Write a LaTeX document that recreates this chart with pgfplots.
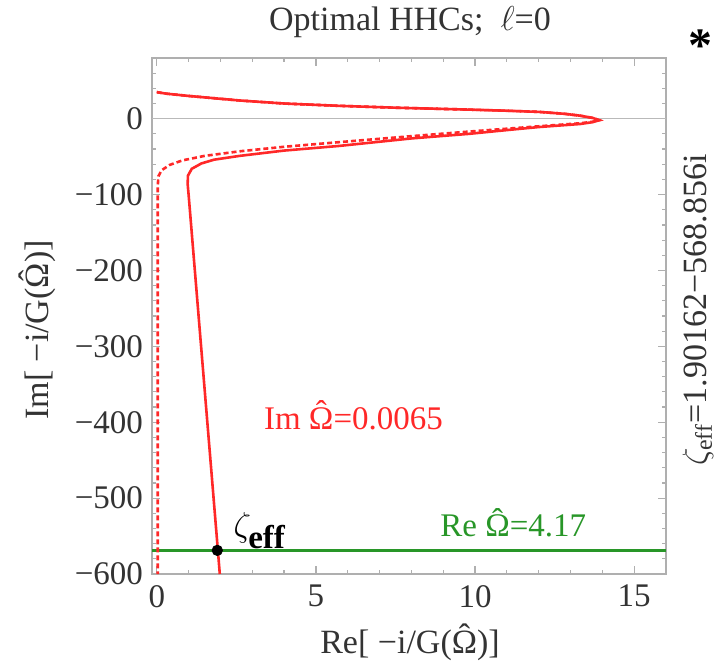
\documentclass[border=0pt]{standalone}
\usepackage{fontspec}
\setmainfont{Liberation Serif}
\usepackage{pgfplots}
\pgfplotsset{compat=1.18}
\definecolor{myred}{RGB}{255,40,40}
\definecolor{mygreen}{RGB}{40,150,40}
\definecolor{framegray}{RGB}{175,175,175}
\newcommand{\Oh}{\ooalign{Ω\cr\hidewidth\raisebox{0.17em}{\char"02C6}\hidewidth\cr}}
\begin{document}
\begin{tikzpicture}
\path[use as bounding box] (-76pt,-47.5pt) rectangle (285pt,287pt);
\begin{axis}[
  at={(0pt,0pt)}, anchor=south west,
  scale only axis, width=257pt, height=258pt,
  xmin=-0.15, xmax=16, ymin=-600, ymax=80,
  xtick={0,5,10,15}, xticklabels={0,5,10,15},
  ytick={-600,-500,-400,-300,-200,-100,0},
  yticklabels={−600,−500,−400,−300,−200,−100,0},
  minor xtick={1,2,3,4,6,7,8,9,11,12,13,14,16},
  minor ytick={-580,-560,...,60},
  tick align=inside, major tick length=4pt, minor tick length=2pt,
  axis line style={framegray, line width=0.8pt},
  every tick/.style={framegray, line width=0.6pt},
  ticklabel style={font=\fontsize{16.5}{18}\selectfont, text=black!80},
  xticklabel style={yshift=-2pt},
  yticklabel style={xshift=-1pt},
]
\addplot[gray!55, line width=0.7pt] coordinates {(-0.15,0) (16,0)};
\addplot[mygreen, line width=1.6pt] coordinates {(-0.15,-568.856) (16,-568.856)};
% dashed curve
\addplot[myred, line width=1.3pt, dash pattern=on 2.5pt off 1.5pt] coordinates {
(0,35) (0.3,33) (1,30) (2.6,24) (4,20) (5.7,17) (7.5,14.5) (9.8,12) (11,10.5) (12,9) (12.8,6.5) (13.3,4) (13.7,1) (13.9,-2)
(13.7,-4) (13.3,-6) (12,-10) (9.8,-17) (8,-23) (5.7,-31) (4,-37) (2.6,-43) (1.5,-49) (0.8,-55) (0.4,-61) (0.15,-68) (0.05,-76) (0.03,-90) (0.03,-600)};
% solid curve
\addplot[myred, line width=1.3pt] coordinates {
(0,35) (0.3,33) (1,30) (2.6,24) (4,20) (5.7,17) (7.5,14.5) (9.8,12) (11,10.5) (12,9) (12.8,6.5) (13.3,4) (13.7,1) (13.9,-2)
(13.7,-4.5) (13.3,-7) (12,-11) (11,-15) (9.8,-20) (8,-26) (5.7,-36) (4,-42) (2.6,-49) (1.8,-54) (1.4,-59) (1.1,-66) (0.98,-75) (0.97,-86) (1.0,-100) (1.92,-568.856) (1.98,-600)};
\addplot[only marks, mark=*, mark size=2.6pt, black] coordinates {(1.90162,-568.856)};
\node[anchor=base west, text=myred, font=\fontsize{16.5}{18}\selectfont, inner sep=0pt] at (axis cs:3.36,-409) {Im \Oh=0.0065};
\node[anchor=base west, text=mygreen, font=\fontsize{16.5}{18}\selectfont, inner sep=0pt] at (axis cs:8.9,-551) {Re \Oh=4.17};
\node[anchor=base west, text=black, font=\fontsize{16.5}{18}\selectfont, inner sep=0pt] at (axis cs:2.4,-551) {$\zeta_{\textbf{eff}}$};
\end{axis}
\node[font=\fontsize{17}{19}\selectfont, text=black!80] at (129pt,276pt) {Optimal HHCs;\ \ $\ell$=0};
\node[font=\fontsize{17}{19}\selectfont, text=black!80] at (129pt,-35.5pt) {Re[ −i/G(\Oh)]};
\node[font=\fontsize{17}{19}\selectfont, text=black!80, rotate=90] at (-56pt,122pt) {Im[ −i/G(\Oh)]};
\node[font=\fontsize{17}{19}\selectfont, text=black!80, rotate=90] at (273pt,132pt) {$\zeta_{\mathrm{eff}}$=1.90162−568.856i};
\node[font=\fontsize{24}{26}\selectfont\bfseries] at (274pt,264pt) {*};
\end{tikzpicture}
\end{document}
